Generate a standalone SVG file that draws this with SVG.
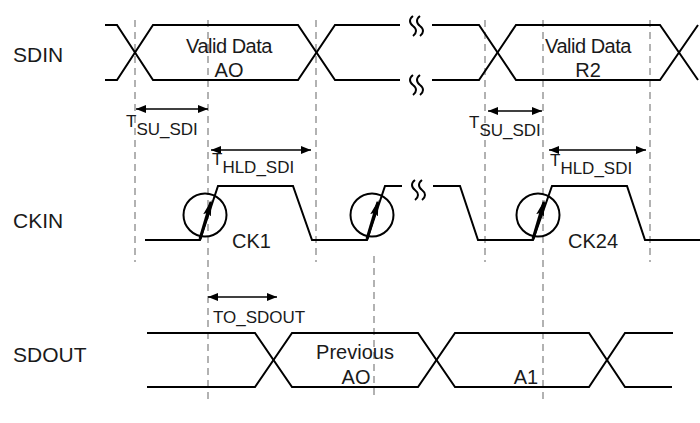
<svg xmlns="http://www.w3.org/2000/svg" width="700" height="423" viewBox="0 0 700 423">
<style>
text{font-family:"Liberation Sans",Arial,sans-serif;fill:#1a1a1a}
.lbl{font-size:20px}
.side{font-size:21px}
.vd{letter-spacing:-0.5px}
.t{font-size:17px}
.sig{fill:none;stroke:#000;stroke-width:2}
.dash{fill:none;stroke:#999;stroke-width:1.5;stroke-dasharray:7 5}
.dim{fill:none;stroke:#000;stroke-width:1.5;marker-start:url(#ah);marker-end:url(#ah)}
.clk{fill:none;stroke:#000;stroke-width:2}
.carr{fill:none;stroke:#000;stroke-width:3;marker-end:url(#big)}
.brk{fill:none;stroke:#000;stroke-width:2}
</style>
<defs>
<marker id="ah" viewBox="0 0 10 8" refX="10" refY="4" markerWidth="10" markerHeight="8" markerUnits="userSpaceOnUse" orient="auto-start-reverse">
<path d="M0,0 L10,4 L0,8 Z" fill="#000"/>
</marker>
<marker id="big" viewBox="0 0 16 8" refX="14" refY="4" markerWidth="16" markerHeight="8" markerUnits="userSpaceOnUse" orient="auto">
<path d="M0,0 L16,4 L0,8 L3,4 Z" fill="#000"/>
</marker>
</defs>

<g id="guides">
<line class="dash" x1="135" y1="20" x2="135" y2="262"/>
<line class="dash" x1="208" y1="20" x2="208" y2="402"/>
<line class="dash" x1="316" y1="20" x2="316" y2="262"/>
<line class="dash" x1="374" y1="256" x2="374" y2="398"/>
<line class="dash" x1="485" y1="20" x2="485" y2="262"/>
<line class="dash" x1="543" y1="20" x2="543" y2="402"/>
<line class="dash" x1="650" y1="20" x2="650" y2="262"/>
</g>

<g id="labels">
<text class="side" x="13" y="62">SDIN</text>
<text class="side" x="13" y="228">CKIN</text>
<text class="side" x="13" y="362">SDOUT</text>
</g>

<g id="sdin">
<path class="sig" d="M105,25 H117 L153,80 H298 L335,25 H400"/>
<path class="sig" d="M105,80 H117 L153,25 H298 L335,80 H400"/>
<path class="sig" d="M432,25 H479 L516,80 H660 L698,25"/>
<path class="sig" d="M432,80 H479 L516,25 H660 L698,80"/>
<path class="brk" d="M413,16 c-4,3 -4,7 0,10 c4,3 4,7 0,10 M420,16 c-4,3 -4,7 0,10 c4,3 4,7 0,10"/>
<path class="brk" d="M413,75 c-4,3 -4,7 0,10 c4,3 4,7 0,10 M420,75 c-4,3 -4,7 0,10 c4,3 4,7 0,10"/>
<text class="lbl vd" x="229" y="53" text-anchor="middle">Valid Data</text>
<text class="lbl" x="229" y="77" text-anchor="middle">AO</text>
<text class="lbl vd" x="588" y="53" text-anchor="middle">Valid Data</text>
<text class="lbl" x="588" y="77" text-anchor="middle">R2</text>
</g>

<g id="ckin">
<path class="sig" d="M145,240 H200 L218,186 H293 L312,240 H367 L385,186 H402"/>
<path class="sig" d="M433,186 H460 L478,240 H533 L552,186 H627 L645,240 H700"/>
<path class="brk" d="M415,180 c-4,3 -4,7 0,10 c4,3 4,7 0,10 M422,180 c-4,3 -4,7 0,10 c4,3 4,7 0,10"/>
<circle class="clk" cx="205" cy="215" r="21.5"/>
<circle class="clk" cx="372" cy="215" r="21.5"/>
<circle class="clk" cx="538" cy="215" r="21.5"/>
<line class="carr" x1="200" y1="239" x2="211" y2="202"/>
<line class="carr" x1="367" y1="239" x2="378" y2="202"/>
<line class="carr" x1="533" y1="239" x2="544" y2="202"/>
<text class="lbl" x="232" y="248">CK1</text>
<text class="lbl" x="568" y="248">CK24</text>
</g>

<g id="sdout">
<path class="sig" d="M147,333 H255 L292,387 H418 L455,333 H589 L625,387 H672"/>
<path class="sig" d="M147,387 H255 L292,333 H418 L455,387 H589 L625,333 H673"/>
<text class="lbl" x="355" y="359" text-anchor="middle">Previous</text>
<text class="lbl" x="356" y="384" text-anchor="middle">AO</text>
<text class="lbl" x="526" y="384" text-anchor="middle">A1</text>
</g>

<g id="timings">
<line class="dim" x1="136" y1="109" x2="208" y2="109"/>
<text class="t" x="126" y="127">T<tspan dy="8">SU_SDI</tspan></text>
<line class="dim" x1="211" y1="150" x2="311" y2="150"/>
<text class="t" x="212" y="165">T<tspan dy="8">HLD_SDI</tspan></text>
<line class="dim" x1="488" y1="111" x2="542" y2="111"/>
<text class="t" x="469" y="128">T<tspan dy="8">SU_SDI</tspan></text>
<line class="dim" x1="549" y1="150" x2="646" y2="150"/>
<text class="t" x="550" y="166">T<tspan dy="8">HLD_SDI</tspan></text>
<line class="dim" x1="208" y1="297" x2="277" y2="297"/>
<text class="t" x="213" y="323">TO_SDOUT</text>
</g>
</svg>
